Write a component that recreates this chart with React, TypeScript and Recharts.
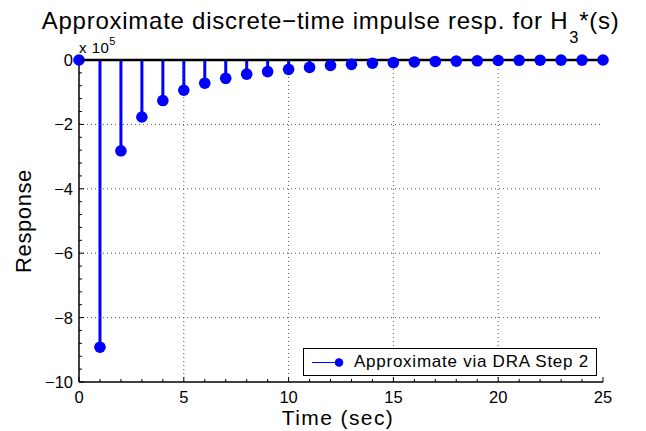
import { ComposedChart, Bar, Line, XAxis, YAxis, ReferenceLine } from 'recharts';

// time samples (sec) and response values (x 10^5)
const timeSec = [0, 1, 2, 3, 4, 5, 6, 7, 8, 9, 10, 11, 12, 13, 14, 15, 16, 17, 18, 19, 20, 21, 22, 23, 24, 25];
const response = [
    0, -8.92, -2.82, -1.77, -1.26, -0.94, -0.72, -0.57, -0.44, -0.36, -0.29, -0.23, -0.17,
    -0.135, -0.1, -0.08, -0.06, -0.045, -0.035, -0.025, -0.015, -0.01, -0.007, -0.005, -0.003, 0,
];

const xMajorTicks = [0, 5, 10, 15, 20, 25];
const xMinorTicks = timeSec;
const yMajorTicks = [-10, -8, -6, -4, -2, 0];
const yMinorTicks = Array.from({ length: 26 }, (_, i) => Math.round((-10 + i * 0.4) * 10) / 10);

const xGrid = [5, 10, 15, 20];
const yGrid = [-8, -6, -4, -2];

const seriesName = 'Approximate via DRA Step 2';
const titleMain = 'Approximate discrete\u2212time impulse resp. for H';

const data = timeSec.map((t, i) => ({ t, v: response[i] }));

const BLUE = '#0000ff';
const FONT = '"Liberation Sans", Arial, Helvetica, sans-serif';

const fmt = (v: number) => (v < 0 ? '\u2212' + Math.abs(v) : String(v));
const isMajorX = (v: number) => xMajorTicks.includes(v);
const isMajorY = (v: number) => yMajorTicks.includes(v);

const BottomTick = (props: any) => {
    const { x, y, payload } = props;
    const major = isMajorX(payload.value);
    return (
        <g>
            <line x1={x} y1={y} x2={x} y2={y - (major ? 5 : 3)} stroke="#000" />
            {major && (
                <text x={x} y={y + 20.5} textAnchor="middle" fontSize={16.5} fontFamily={FONT} fill="#000">
                    {payload.value}
                </text>
            )}
        </g>
    );
};

const TopTick = (props: any) => {
    const { x, y, payload } = props;
    const major = isMajorX(payload.value);
    return <line x1={x} y1={y} x2={x} y2={y + (major ? 5 : 3)} stroke="#000" />;
};

const LeftTick = (props: any) => {
    const { x, y, payload } = props;
    const major = isMajorY(payload.value);
    return (
        <g>
            <line x1={x} y1={y} x2={x + (major ? 5 : 3)} y2={y} stroke="#000" />
            {major && (
                <text x={x - 6} y={y} dy="0.36em" textAnchor="end" fontSize={16.5} fontFamily={FONT} fill="#000">
                    {fmt(payload.value)}
                </text>
            )}
        </g>
    );
};

const RightTick = (props: any) => {
    const { x, y, payload } = props;
    const major = isMajorY(payload.value);
    return <line x1={x} y1={y} x2={x - (major ? 5 : 3)} y2={y} stroke="#000" />;
};

const LegendBox = () => (
    <div
        style={{
            position: 'absolute',
            left: 303,
            top: 348,
            width: 292,
            height: 26,
            border: '1px solid #000',
            background: '#fff',
            fontFamily: FONT,
        }}
    >
        <svg width={50} height={26} style={{ position: 'absolute', left: 0, top: 0 }}>
            <line x1={8} y1={13.5} x2={35} y2={13.5} stroke={BLUE} strokeWidth={1} />
            <circle cx={35} cy={13.5} r={4.3} fill={BLUE} />
        </svg>
        <span
            style={{
                position: 'absolute',
                left: 50,
                top: 2,
                fontSize: 17,
                letterSpacing: 0.75,
                lineHeight: '22px',
                color: '#000',
                whiteSpace: 'nowrap',
            }}
        >
            {seriesName}
        </span>
    </div>
);

export default function App() {
    return (
        <div style={{ position: 'absolute', left: 0, top: 0, width: 646, height: 431, background: '#fff' }}>
            <ComposedChart
                width={646}
                height={431}
                data={data}
                margin={{ top: 60, right: 43, bottom: 0, left: 0 }}
            >
                <XAxis
                    dataKey="t"
                    type="number"
                    domain={[0, 25]}
                    ticks={xMinorTicks}
                    interval={0}
                    height={49}
                    tickSize={0}
                    tickMargin={0}
                    tick={BottomTick}
                    axisLine={{ stroke: '#000', strokeWidth: 1.5 }}
                />
                <XAxis
                    xAxisId="top"
                    orientation="top"
                    type="number"
                    domain={[0, 25]}
                    ticks={xMinorTicks}
                    interval={0}
                    height={0}
                    tickSize={0}
                    tickMargin={0}
                    tick={TopTick}
                    axisLine={false}
                />
                <YAxis
                    type="number"
                    domain={[-10, 0]}
                    ticks={yMinorTicks}
                    interval={0}
                    width={79}
                    tickSize={0}
                    tickMargin={0}
                    tick={LeftTick}
                    axisLine={{ stroke: '#000', strokeWidth: 1.5 }}
                />
                <YAxis
                    yAxisId="right"
                    orientation="right"
                    type="number"
                    domain={[-10, 0]}
                    ticks={yMinorTicks}
                    interval={0}
                    width={0}
                    tickSize={0}
                    tickMargin={0}
                    tick={RightTick}
                    axisLine={{ stroke: '#000', strokeWidth: 1.5 }}
                />
                {xGrid.map((g) => (
                    <ReferenceLine key={'x' + g} x={g} stroke="#555" strokeDasharray="1 3" />
                ))}
                {yGrid.map((g) => (
                    <ReferenceLine key={'y' + g} y={g} stroke="#555" strokeDasharray="1 3" />
                ))}
                <Bar dataKey="v" fill={BLUE} barSize={3} isAnimationActive={false} legendType="none" />
                <ReferenceLine y={0} stroke="#000" strokeWidth={2.5} />
                <Line
                    dataKey="v"
                    name={seriesName}
                    stroke="none"
                    dot={{ r: 5.8, fill: BLUE, stroke: 'none' }}
                    activeDot={false}
                    isAnimationActive={false}
                />
            </ComposedChart>
            <LegendBox />
            <svg
                width={646}
                height={431}
                style={{ position: 'absolute', left: 0, top: 0, pointerEvents: 'none' }}
                fontFamily={FONT}
            >
                <defs>
                    <clipPath id="titleClip">
                        <rect x={0} y={0} width={633} height={58} />
                    </clipPath>
                </defs>
                <text x={41.7} y={29.3} fontSize={24} letterSpacing={0.75} fill="#000" clipPath="url(#titleClip)">
                    {titleMain}
                    <tspan fontSize={16.5} dy={13.5} dx={1}>
                        3
                    </tspan>
                    <tspan fontSize={24} dy={-13.5}>
                        *(s)
                    </tspan>
                </text>
                <text x={79} y={53} fontSize={15} letterSpacing={0.5} fill="#000">
                    x 10
                    <tspan fontSize={11} dy={-8}>
                        5
                    </tspan>
                </text>
                <text x={338} y={425} fontSize={21} letterSpacing={1.4} textAnchor="middle" fill="#000">
                    Time (sec)
                </text>
                <text
                    x={31}
                    y={221}
                    fontSize={22}
                    letterSpacing={0.6}
                    textAnchor="middle"
                    transform="rotate(-90 31 221)"
                    fill="#000"
                >
                    Response
                </text>
            </svg>
        </div>
    );
}
